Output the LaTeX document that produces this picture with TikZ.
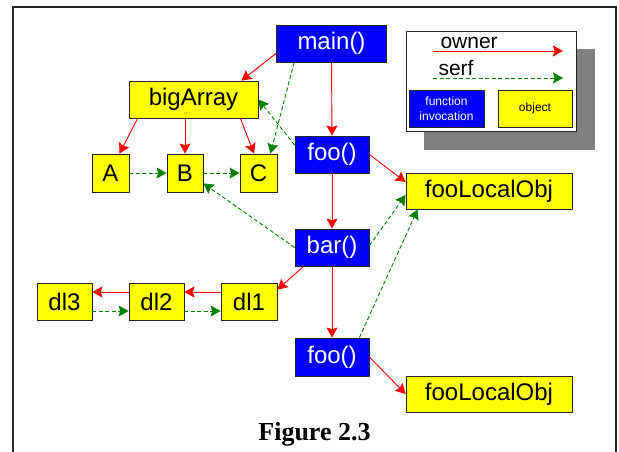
\documentclass[tikz,border=0pt]{standalone}
\usepackage{fontspec}
\setmainfont{Liberation Sans}
\newfontfamily\captionfont{Liberation Serif}
\usetikzlibrary{arrows.meta}
\definecolor{fnblue}{HTML}{0000FF}
\definecolor{objyellow}{HTML}{FFFF00}
\definecolor{ownred}{HTML}{FF0000}
\definecolor{serfgreen}{HTML}{008000}
\definecolor{shadowgray}{HTML}{808080}
\definecolor{edgegray}{HTML}{262626}
\tikzset{
  box/.style={draw=edgegray, line width=0.8pt, inner sep=0pt, rectangle,
    font=\fontsize{24}{28}\selectfont},
  func/.style={box, fill=fnblue, text=white},
  obj/.style={box, fill=objyellow, text=black},
  owner/.style={draw=ownred, line width=0.9pt,
    -{Stealth[length=10pt,width=11pt,inset=1.5pt]}},
  serf/.style={draw=serfgreen, line width=0.9pt, dash pattern=on 4pt off 2.5pt,
    -{Stealth[length=10pt,width=11pt,inset=1.5pt]}},
}
\begin{document}
\begin{tikzpicture}[x=1pt, y=-1pt]
  \useasboundingbox (0,0) rectangle (619,451);
  % outer frame, open at the bottom
  \begin{scope}
    \clip (0,0) rectangle (619,451);
    \draw[line width=1.3pt, draw=edgegray] (13,470) -- (13,7) -- (616,7) -- (616,470);
  \end{scope}

  % legend with drop shadow
  \fill[shadowgray] (424,49) rectangle (595,150);
  \draw[fill=white, draw=edgegray, line width=0.8pt] (406,31) rectangle (576,131);
  \node[anchor=base west, font=\fontsize{21}{24}\selectfont] (lgowner) at (437,48) {owner};
  \node[anchor=base west, font=\fontsize{21}{24}\selectfont] (lgserf) at (435,75) {serf};
  \coordinate (ownA) at (433,51);
  \coordinate (ownB) at (563,51);
  \coordinate (serfA) at (433,78);
  \coordinate (serfB) at (563,78);
  \draw[owner] (ownA) -- (ownB);
  \draw[serf] (serfA) -- (serfB);
  \node[func, minimum width=75pt, minimum height=37pt, align=center,
        font=\fontsize{12}{15}\selectfont] (lgfunc) at (446.5,108.5) {function\\invocation};
  \node[obj, minimum width=74pt, minimum height=37pt,
        font=\fontsize{12}{15}\selectfont] (lgobj) at (535,108.5) {object};

  % function invocations
  \node[func, minimum width=110pt, minimum height=37pt] (main) at (331.5,43.5) {main()};
  \node[func, minimum width=74pt, minimum height=37pt] (foo1) at (332,154.5) {foo()};
  \node[func, minimum width=74pt, minimum height=37pt] (bar) at (332,247.5) {bar()};
  \node[func, minimum width=74pt, minimum height=38pt] (foo2) at (332,357) {foo()};

  % objects
  \node[obj, minimum width=129pt, minimum height=37pt] (big) at (193.5,99.5) {bigArray};
  \node[obj, minimum width=37pt, minimum height=38pt] (A) at (110.5,173) {A};
  \node[obj, minimum width=36pt, minimum height=38pt] (B) at (185,173) {B};
  \node[obj, minimum width=37pt, minimum height=38pt] (C) at (258.5,173) {C};
  \node[obj, minimum width=166pt, minimum height=36pt] (loc1) at (489,191) {fooLocalObj};
  \node[obj, minimum width=166pt, minimum height=36pt] (loc2) at (489,394) {fooLocalObj};
  \node[obj, minimum width=56pt, minimum height=37pt] (dl1) at (249,301.5) {dl1};
  \node[obj, minimum width=55pt, minimum height=37pt] (dl2) at (156.5,301.5) {dl2};
  \node[obj, minimum width=55pt, minimum height=37pt] (dl3) at (64.5,301.5) {dl3};

  % owner edges
  \draw[owner] ([yshift=9pt]main.south west) -- ([xshift=-17pt]big.north east);
  \draw[owner] (main.south) -- (foo1.north);
  \draw[owner] ([xshift=9pt]big.south west) -- ([xshift=9pt]A.north);
  \draw[owner] (B.north |- big.south) -- (B.north);
  \draw[owner] ([xshift=-18pt]big.south east) -- ([xshift=-4.5pt]C.north);
  \draw[owner] (foo1.east) -- ([yshift=9pt]loc1.west);
  \draw[owner] (foo1.south) -- (bar.north);
  \draw[owner] ([xshift=9pt]bar.south west) -- ([yshift=-7pt]dl1.north east);
  \draw[owner] ([yshift=9.5pt]dl1.west) -- ([yshift=9.5pt]dl2.east);
  \draw[owner] ([yshift=9.5pt]dl2.west) -- ([yshift=9.5pt]dl3.east);
  \draw[owner] (bar.south) -- (foo2.north);
  \draw[owner] (foo2.east) -- (loc2.west);

  % serf edges
  \draw[serf] ([xshift=18pt]main.south west) -- ([xshift=-7pt]C.north east);
  \draw[serf] ([yshift=9.5pt]foo1.west) -- (big.east);
  \draw[serf] (A.east) -- (B.west);
  \draw[serf] (B.east) -- (C.west);
  \draw[serf] (bar.west) -- ([yshift=9pt]B.south east);
  \draw[serf] ([yshift=2pt]bar.east) -- ([yshift=-4pt]loc1.west);
  \draw[serf] ([xshift=-10pt]foo2.north east) -- ([xshift=12pt]loc1.south west);
  \draw[serf] ([yshift=-9.5pt]dl3.east) -- ([yshift=-9.5pt]dl2.west);
  \draw[serf] ([yshift=-9.5pt]dl2.east) -- ([yshift=-9.5pt]dl1.west);

  % caption
  \node[anchor=base, font=\captionfont\bfseries\fontsize{26}{29}\selectfont] (cap) at (314.5,440) {Figure 2.3};
\end{tikzpicture}
\end{document}
